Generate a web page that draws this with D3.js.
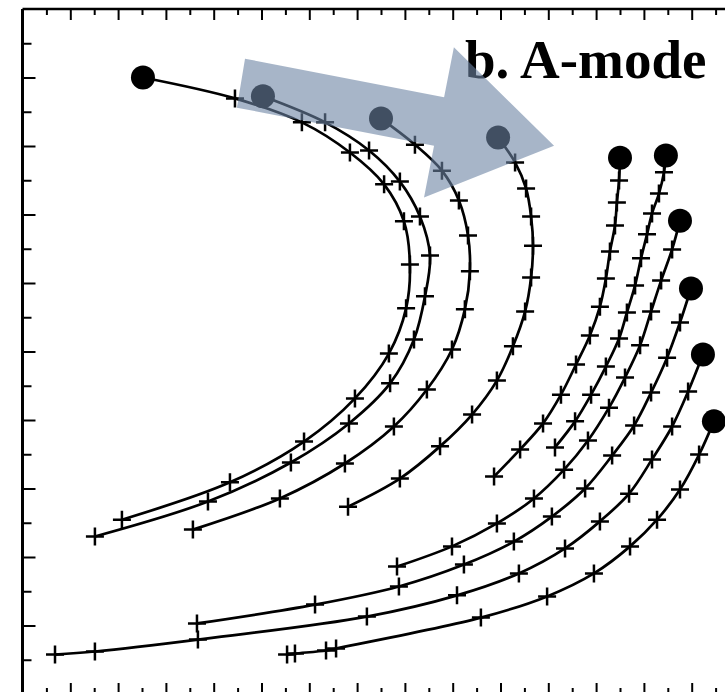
<!DOCTYPE html>
<html>
<head>
<meta charset="utf-8">
<script src="https://cdn.jsdelivr.net/npm/d3@7"></script>
<style>
  html, body { margin: 0; padding: 0; background: #fff; }
  svg { display: block; }
</style>
</head>
<body>
<div id="chart"></div>
<script>
// track positions (axis units), first point of each is the start (dot)
var track1 = [[5.04, 18.0], [8.89, 17.39], [11.69, 16.69], [13.70, 15.81], [15.13, 14.88], [15.96, 13.80],
    [16.21, 12.54], [16.05, 11.26], [15.33, 9.94], [13.91, 8.63], [11.78, 7.37], [8.68, 6.18], [4.16, 5.09]];
var track2 = [[10.06, 17.45], [12.66, 16.69], [14.50, 15.87], [15.79, 14.96], [16.63, 13.94], [17.05, 12.80],
    [16.84, 11.61], [16.38, 10.35], [15.38, 9.07], [13.66, 7.90], [11.23, 6.76], [7.76, 5.62], [3.03, 4.60]];
var track3 = [[15.00, 16.80], [16.42, 16.04], [17.55, 15.28], [18.26, 14.41], [18.64, 13.39], [18.72, 12.34],
    [18.51, 11.23], [17.97, 10.06], [16.92, 8.89], [15.54, 7.81], [13.49, 6.73], [10.77, 5.71], [7.13, 4.80]];
var track4 = [[19.90, 16.25], [20.61, 15.52], [21.07, 14.76], [21.28, 13.94], [21.36, 13.09], [21.28, 12.16],
    [21.03, 11.17], [20.52, 10.15], [19.85, 9.15], [18.81, 8.16], [17.47, 7.23], [15.79, 6.29], [13.62, 5.47]];
var track5 = [[25.00, 15.66], [24.96, 14.99], [24.87, 14.35], [24.79, 13.68], [24.58, 12.92], [24.41, 12.13],
    [24.16, 11.31], [23.74, 10.47], [23.16, 9.62], [22.53, 8.74], [21.78, 7.90], [20.82, 7.14], [19.73, 6.35]];
var track6 = [[26.92, 15.72], [26.84, 15.23], [26.63, 14.61], [26.34, 14.03], [26.13, 13.42], [25.88, 12.72],
    [25.63, 11.93], [25.29, 11.14], [24.96, 10.38], [24.41, 9.56], [23.79, 8.74], [23.12, 7.96], [22.28, 7.20]];
var track7 = [[27.51, 13.82], [27.18, 12.98], [26.72, 12.07], [26.30, 11.17], [25.84, 10.18], [25.21, 9.24],
    [24.54, 8.36], [23.66, 7.40], [22.66, 6.55], [21.40, 5.71], [19.85, 4.98], [17.97, 4.31], [15.67, 3.72]];
var track8 = [[27.97, 11.84], [27.51, 10.85], [26.97, 9.82], [26.30, 8.80], [25.59, 7.84], [24.67, 6.96],
    [23.54, 6.00], [22.15, 5.18], [20.56, 4.45], [18.47, 3.78], [15.75, 3.14], [12.24, 2.61], [7.30, 2.06]];
var track9 = [[28.47, 9.91], [27.85, 8.83], [27.18, 7.81], [26.34, 6.85], [25.38, 5.85], [24.16, 5.04],
    [22.70, 4.25], [20.77, 3.52], [18.18, 2.88], [14.41, 2.26], [7.34, 1.59], [3.03, 1.24], [1.36, 1.15]];
var track10 = [[28.93, 7.96], [28.31, 6.99], [27.51, 5.97], [26.55, 5.09], [25.42, 4.31], [23.91, 3.52],
    [21.95, 2.85], [19.18, 2.23], [13.12, 1.33], [12.70, 1.27], [11.40, 1.18], [11.07, 1.15]];

var tracks = [track1, track2, track3, track4, track5, track6, track7, track8, track9, track10];

// shaded arrow outline (axis units)
var arrowShape = [[9.31, 18.55], [17.64, 17.42], [18.05, 18.88], [22.24, 16.01], [16.80, 14.50], [17.22, 16.01], [8.97, 17.12]];

var title = "b. A-mode";

var xTicks = d3.range(1, 30);
var yTicks = d3.range(1, 20);

var W = 725, H = 692;
var box = { l: 22.5, r: 739.5, t: 9, b: 694 };

var x = d3.scaleLinear().domain([0, 30]).range([box.l, box.r]);
var y = d3.scaleLinear().domain([0, 20]).range([box.b, box.t]);

var svg = d3.select("#chart").append("svg")
    .attr("width", W)
    .attr("height", H);

svg.append("rect").attr("width", W).attr("height", H).attr("fill", "#fff");

// ticks: long on even, short on odd
function evens(a) { return a.filter(function(d) { return d % 2 === 0; }); }
function odds(a) { return a.filter(function(d) { return d % 2 === 1; }); }

function addAxis(axisFn, scale, vals, size, transform) {
    var g = svg.append("g")
        .attr("transform", transform)
        .call(axisFn(scale).tickValues(vals).tickSize(-size).tickFormat(""));
    g.select(".domain").remove();
    g.selectAll(".tick line").attr("stroke", "#000").attr("stroke-width", 2);
}

addAxis(d3.axisTop, x, evens(xTicks), 11, "translate(0," + box.t + ")");
addAxis(d3.axisTop, x, odds(xTicks), 6, "translate(0," + box.t + ")");
addAxis(d3.axisBottom, x, evens(xTicks), 11, "translate(0," + box.b + ")");
addAxis(d3.axisBottom, x, odds(xTicks), 6, "translate(0," + box.b + ")");
addAxis(d3.axisLeft, y, evens(yTicks), 13, "translate(" + box.l + ",0)");
addAxis(d3.axisLeft, y, odds(yTicks), 9, "translate(" + box.l + ",0)");

// frame
svg.append("line").attr("x1", box.l).attr("x2", box.l).attr("y1", box.t).attr("y2", box.b)
    .attr("stroke", "#000").attr("stroke-width", 3);
svg.append("line").attr("x1", box.l).attr("x2", box.r).attr("y1", box.t).attr("y2", box.t)
    .attr("stroke", "#000").attr("stroke-width", 2.5);
svg.append("line").attr("x1", box.l).attr("x2", box.r).attr("y1", box.b).attr("y2", box.b)
    .attr("stroke", "#000").attr("stroke-width", 2.5);

// title
svg.append("text")
    .attr("x", 465)
    .attr("y", 78)
    .attr("font-family", "'Liberation Serif', 'Times New Roman', serif")
    .attr("font-weight", "bold")
    .attr("font-size", 55)
    .attr("fill", "#000")
    .text(title);

var line = d3.line()
    .x(function(d) { return x(d[0]); })
    .y(function(d) { return y(d[1]); })
    .curve(d3.curveCatmullRom.alpha(0.5));

var trackG = svg.append("g");

trackG.selectAll("path.track")
    .data(tracks)
    .enter().append("path")
    .attr("class", "track")
    .attr("d", line)
    .attr("fill", "none")
    .attr("stroke", "#000")
    .attr("stroke-width", 2.7);

// plus markers for every position after the start
var plusPts = [];
tracks.forEach(function(t) {
    t.slice(1).forEach(function(p) { plusPts.push(p); });
});

var ps = 9;
trackG.selectAll("path.plus")
    .data(plusPts)
    .enter().append("path")
    .attr("class", "plus")
    .attr("d", function(d) {
        var cx = x(d[0]), cy = y(d[1]);
        return "M" + (cx - ps) + "," + cy + "H" + (cx + ps) + "M" + cx + "," + (cy - ps) + "V" + (cy + ps);
    })
    .attr("stroke", "#000")
    .attr("stroke-width", 2.5)
    .attr("fill", "none");

// start dots
trackG.selectAll("circle")
    .data(tracks)
    .enter().append("circle")
    .attr("cx", function(d) { return x(d[0][0]); })
    .attr("cy", function(d) { return y(d[0][1]); })
    .attr("r", 12)
    .attr("fill", "#000");

// shaded arrow drawn over everything
svg.append("path")
    .datum(arrowShape)
    .attr("d", d3.line()
        .x(function(d) { return x(d[0]); })
        .y(function(d) { return y(d[1]); })
        .curve(d3.curveLinearClosed))
    .attr("fill", "#6d84a3")
    .attr("fill-opacity", 0.6)
    .attr("stroke", "none");
</script>
</body>
</html>
